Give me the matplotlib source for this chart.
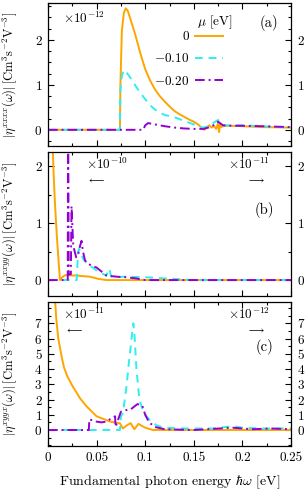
import matplotlib
matplotlib.use('Agg')
from matplotlib import pyplot as plt
from matplotlib.ticker import MultipleLocator

plt.rcParams['font.family'] = 'serif'
plt.rcParams['font.serif'] = ['cmr10']
plt.rcParams['mathtext.fontset'] = 'cm'
plt.rcParams['axes.formatter.use_mathtext'] = True
plt.rcParams['font.size'] = 9

# ---- data ----
labels = ['0', r'$-0.10$', r'$-0.20$']
colors = ['#FFA500', '#2EEEEE', '#9400D3']
xticks = [0, 0.05, 0.1, 0.15, 0.2, 0.25]
xticklabels = ['0', '0.05', '0.1', '0.15', '0.2', '0.25']

# panel (a), x10^-12
xa0 = [0, 0.074, 0.0745, 0.076, 0.078, 0.080, 0.082, 0.085, 0.09, 0.095, 0.10, 0.105, 0.11, 0.115,
       0.12, 0.125, 0.13, 0.135, 0.14, 0.145, 0.15, 0.155, 0.158, 0.161, 0.163, 0.166, 0.168, 0.171,
       0.173, 0.175, 0.176, 0.177, 0.178, 0.180, 0.185, 0.2, 0.22, 0.25]
ya0 = [0, 0, 1.0, 2.2, 2.6, 2.7, 2.65, 2.45, 2.1, 1.7, 1.35, 1.1, 0.9, 0.75,
       0.63, 0.52, 0.42, 0.35, 0.29, 0.23, 0.18, 0.11, 0.04, 0.0, 0.05, 0.1, 0.05, 0.08,
       0.02, 0.15, -0.05, 0.12, 0.06, 0.08, 0.09, 0.08, 0.06, 0.05]
xa1 = [0, 0.074, 0.0745, 0.076, 0.078, 0.080, 0.085, 0.09, 0.095, 0.1, 0.105, 0.11, 0.115, 0.12,
       0.13, 0.14, 0.15, 0.155, 0.16, 0.165, 0.17, 0.175, 0.178, 0.18, 0.185, 0.2, 0.22, 0.25]
ya1 = [0, 0, 0.9, 1.2, 1.33, 1.3, 1.15, 0.98, 0.82, 0.68, 0.55, 0.45, 0.38, 0.33,
       0.28, 0.2, 0.12, 0.07, 0.05, 0.08, 0.15, 0.22, 0.12, 0.1, 0.1, 0.1, 0.08, 0.05]
xa2 = [0, 0.098, 0.1, 0.103, 0.11, 0.12, 0.13, 0.14, 0.15, 0.16, 0.165, 0.17, 0.175, 0.18,
       0.19, 0.2, 0.22, 0.25]
ya2 = [0, 0, 0.1, 0.15, 0.12, 0.08, 0.05, 0.03, 0.02, 0.02, 0.05, 0.1, 0.18, 0.1,
       0.09, 0.09, 0.08, 0.06]

# panel (b): orange x10^-10 (left), others x10^-11 (right)
xb0 = [0.002, 0.004, 0.005, 0.0055, 0.007, 0.009, 0.011, 0.0123, 0.014, 0.017, 0.019, 0.025,
       0.03, 0.035, 0.043, 0.052, 0.06, 0.08, 0.25]
yb0 = [3.0, 2.6, 2.25, 2.0, 1.4, 0.8, 0.3, 0.0, 0.04, 0.08, 0.09, 0.08,
       0.08, 0.07, 0.06, 0.02, 0.0, 0.0, 0.0]
xb1 = [0, 0.0295, 0.031, 0.032, 0.034, 0.037, 0.04, 0.045, 0.05, 0.055, 0.06, 0.063, 0.065,
       0.07, 0.08, 0.1, 0.12, 0.15, 0.25]
yb1 = [0, 0, 0.5, 0.55, 0.45, 0.35, 0.3, 0.23, 0.17, 0.12, 0.08, 0.2, 0.06,
       0.05, 0.06, 0.05, 0.03, 0.0, 0.0]
xb2 = [0, 0.0203, 0.0206, 0.0209, 0.0213, 0.0235, 0.0242, 0.026, 0.029, 0.031, 0.033, 0.0345,
       0.036, 0.038, 0.04, 0.045, 0.05, 0.055, 0.06, 0.07, 0.08, 0.09, 0.1, 0.25]
yb2 = [0, 0, 2.3, 2.3, 0.1, 0.1, 1.3, 0.6, 0.4, 0.45, 0.6, 0.69,
       0.5, 0.35, 0.3, 0.25, 0.22, 0.15, 0.08, 0.06, 0.05, 0.03, 0.0, 0.0]

# panel (c): orange x10^-11 (left), others x10^-12 (right)
xc0 = [0.0065, 0.0072, 0.0085, 0.0106, 0.0141, 0.0165, 0.02, 0.026, 0.033, 0.04, 0.05, 0.064,
       0.074, 0.077, 0.081, 0.085, 0.0888, 0.093, 0.1, 0.108, 0.12, 0.25]
yc0 = [9.5, 8.6, 7.3, 6.0, 4.8, 4.1, 3.5, 2.8, 2.08, 1.53, 0.9, 0.55,
       0.44, 0.1, 0.3, 0.45, 0.05, 0.4, 0.15, 0.0, 0.0, 0.0]
xc1 = [0, 0.074, 0.075, 0.077, 0.079, 0.081, 0.083, 0.086, 0.0878, 0.089, 0.091, 0.094,
       0.098, 0.105, 0.112, 0.119, 0.14, 0.17, 0.19, 0.2, 0.22, 0.25]
yc1 = [0, 0, 0.9, 1.1, 2.0, 3.0, 4.3, 6.0, 7.0, 6.2, 4.0, 2.0,
       1.2, 0.6, 0.3, 0.15, 0.1, 0.1, 0.25, 0.15, 0.1, 0.1]
xc2 = [0, 0.042, 0.0425, 0.05, 0.055, 0.06, 0.066, 0.069, 0.0695, 0.075, 0.08, 0.085,
       0.092, 0.097, 0.1, 0.104, 0.11, 0.12, 0.15, 0.19, 0.21, 0.23, 0.25]
yc2 = [0, 0, 0.7, 0.55, 0.5, 0.55, 0.8, 0.9, 0.2, 1.2, 1.3, 1.35,
       1.7, 1.6, 1.0, 0.5, 0.2, 0.05, 0.0, 0.15, 0.05, 0.1, 0.05]

ylabels = [r'$|\eta^{xxxx}(\omega)|\,[\mathrm{Cm}^3\mathrm{s}^{-2}\mathrm{V}^{-3}]$',
           r'$|\eta^{xxyy}(\omega)|\,[\mathrm{Cm}^3\mathrm{s}^{-2}\mathrm{V}^{-3}]$',
           r'$|\eta^{xyyx}(\omega)|\,[\mathrm{Cm}^3\mathrm{s}^{-2}\mathrm{V}^{-3}]$']


def style(ax, ylo, yhi, yticks, minor):
    ax.set_xlim(0, 0.25)
    ax.set_ylim(ylo, yhi)
    ax.set_xticks(xticks)
    ax.xaxis.set_minor_locator(MultipleLocator(0.025))
    ax.set_yticks(yticks)
    ax.yaxis.set_minor_locator(MultipleLocator(minor))
    ax.tick_params(which='both', direction='in', top=True, right=True, labelright=True,
                   labelsize=9.5, pad=4)
    ax.tick_params(which='major', length=4, width=0.8)
    ax.tick_params(which='minor', length=2, width=0.8)
    for s in ax.spines.values():
        s.set_linewidth(0.9)


def draw(ax, xs, ys):
    l0, = ax.plot(xs[0], ys[0], color=colors[0], lw=1.4, label=labels[0])
    l1, = ax.plot(xs[1], ys[1], color=colors[1], lw=1.4, ls=(0, (4, 3)), label=labels[1])
    l2, = ax.plot(xs[2], ys[2], color=colors[2], lw=1.4, ls=(0, (5, 2, 1, 2)), label=labels[2])
    return [l0, l1, l2]


fig = plt.figure(figsize=(3.06, 4.93), dpi=100)
left, width = 48 / 306, 243 / 306
axa = fig.add_axes([left, 1 - 146 / 493, width, 143 / 493])
axb = fig.add_axes([left, 1 - 296 / 493, width, 144 / 493])
axc = fig.add_axes([left, 1 - 446 / 493, width, 144 / 493])

lines = draw(axa, [xa0, xa1, xa2], [ya0, ya1, ya2])
draw(axb, [xb0, xb1, xb2], [yb0, yb1, yb2])
draw(axc, [xc0, xc1, xc2], [yc0, yc1, yc2])

style(axa, -0.36, 2.82, [0, 1, 2], 0.25)
style(axb, -0.28, 2.25, [0, 1, 2], 0.5)
style(axc, -1.05, 8.4, list(range(8)), 0.5)
axa.tick_params(labelbottom=False)
axb.tick_params(labelbottom=False)
axc.set_xticklabels(xticklabels)
axc.set_xlabel(r'Fundamental photon energy $\hbar\omega$ [eV]', fontsize=10, labelpad=7)

for ax, lab in zip([axa, axb, axc], ylabels):
    ax.set_ylabel(lab, fontsize=9)
    ax.yaxis.set_label_coords(-0.118, 0.5)

axa.text(0.687, 0.865, r'$\mu$ [eV]', transform=axa.transAxes, fontsize=9.5,
         ha='center', va='center')
axa.legend(handles=lines, loc='upper right', bbox_to_anchor=(0.72, 0.805),
           frameon=False, markerfirst=False, fontsize=9.5, handlelength=2.1,
           labelspacing=0.7, handletextpad=0.5, borderaxespad=0, borderpad=0)

# annotations
axa.text(0.06, 0.86, r'$\times10^{-12}$', transform=axa.transAxes, fontsize=9.5)
axa.text(0.91, 0.83, '(a)', transform=axa.transAxes, fontsize=10.5, ha='center')

axb.text(0.155, 0.88, r'$\times10^{-10}$', transform=axb.transAxes, fontsize=9.5)
axb.text(0.16, 0.79, r'$\longleftarrow$', transform=axb.transAxes, fontsize=7)
axb.text(0.74, 0.88, r'$\times10^{-11}$', transform=axb.transAxes, fontsize=9.5)
axb.text(0.82, 0.79, r'$\longrightarrow$', transform=axb.transAxes, fontsize=7)
axb.text(0.89, 0.57, '(b)', transform=axb.transAxes, fontsize=10.5, ha='center')

axc.text(0.06, 0.88, r'$\times10^{-11}$', transform=axc.transAxes, fontsize=9.5)
axc.text(0.07, 0.79, r'$\longleftarrow$', transform=axc.transAxes, fontsize=7)
axc.text(0.74, 0.88, r'$\times10^{-12}$', transform=axc.transAxes, fontsize=9.5)
axc.text(0.82, 0.79, r'$\longrightarrow$', transform=axc.transAxes, fontsize=7)
axc.text(0.89, 0.66, '(c)', transform=axc.transAxes, fontsize=10.5, ha='center')

fig.savefig('out.png', dpi=100)
